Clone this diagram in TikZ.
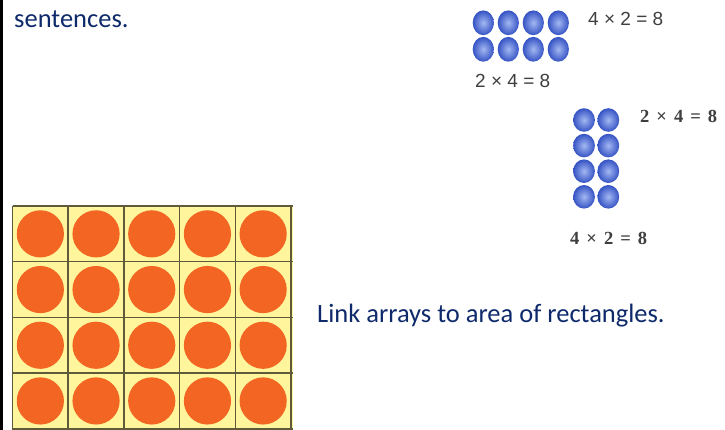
\documentclass[tikz,border=0pt]{standalone}
\usepackage{fontspec}
\setmainfont{Carlito}
\newfontfamily\arialfont{Liberation Sans}
\newfontfamily\timesfont{Liberation Serif}
\usepackage{xcolor}
\definecolor{navytext}{HTML}{0E2A6B}
\definecolor{cellyellow}{HTML}{FFF59D}
\definecolor{gridolive}{HTML}{5E5A3A}
\definecolor{dotorange}{HTML}{F26522}
\definecolor{dotblue}{HTML}{3553C4}
\definecolor{dotlight}{HTML}{A3B8F2}
\definecolor{lblgrey}{HTML}{3F3F3F}
\tikzset{slidetext/.style={inner sep=0pt,anchor=base west,text=navytext,
  font=\fontsize{26.5}{30}\selectfont},
  eqsans/.style={inner sep=0pt,anchor=base west,text=lblgrey,
  font=\arialfont\fontsize{19}{22}\selectfont},
  eqserif/.style={inner sep=0pt,anchor=base west,text=lblgrey,
  font=\timesfont\bfseries\fontsize{18.5}{22}\selectfont},
  bluedot/.style={inner color=dotlight,outer color=dotblue},
  orangedot/.style={fill=dotorange},
  gridline/.style={draw=gridolive,line width=1.6pt}}
\newcommand\eqgap{\hspace{0.38em}}

\begin{document}
\begin{tikzpicture}[x=1pt,y=-1pt]
\useasboundingbox (0,0) rectangle (725,430);
\fill[white] (0,0) rectangle (725,430);
% left edge bar
\fill[black] (0,0) rectangle (2.7,430);
% texts
\node[slidetext] (sent) at (14,28) {sentences.};
\node[slidetext] (link) at (317,322) {Link arrays to area of rectangles.};
% 4 by 2 array
\foreach \i in {0,...,3}
  \foreach \j in {0,1}
    \shade[bluedot] ({483.3+25*\i},{22.8+26.5*\j}) ellipse (10.6 and 12.4);
\node[eqsans] (eqa) at (588,26) {4 × 2 = 8};
\node[eqsans] (eqb) at (475,88) {2 × 4 = 8};
% 2 by 4 array
\foreach \i in {0,1}
  \foreach \j in {0,...,3}
    \shade[bluedot] ({584+24.3*\i},{120+25.6*\j}) ellipse (10.9 and 11.8);
\node[eqserif] (eqc) at (640,123) {2\eqgap×\eqgap4\eqgap=\eqgap8};
\node[eqserif] (eqd) at (570,245) {4\eqgap×\eqgap2\eqgap=\eqgap8};
% counters grid, cropped at right and bottom
\begin{scope}
\clip (12,205) rectangle (293,430);
\fill[cellyellow] (12.5,206) rectangle (293,430);
\foreach \i in {0,...,4}
  \foreach \j in {0,...,3}
    \fill[orangedot] ({12.5+55.7*\i+27.85},{206+55.7*\j+27.85}) circle (23.6);
\foreach \i in {0,...,5}
  \draw[gridline] ({12.5+55.7*\i},206) -- ({12.5+55.7*\i},430);
\foreach \j in {0,...,4}
  \draw[gridline] (12.5,{206+55.7*\j}) -- (293,{206+55.7*\j});
\end{scope}
\end{tikzpicture}
\end{document}
